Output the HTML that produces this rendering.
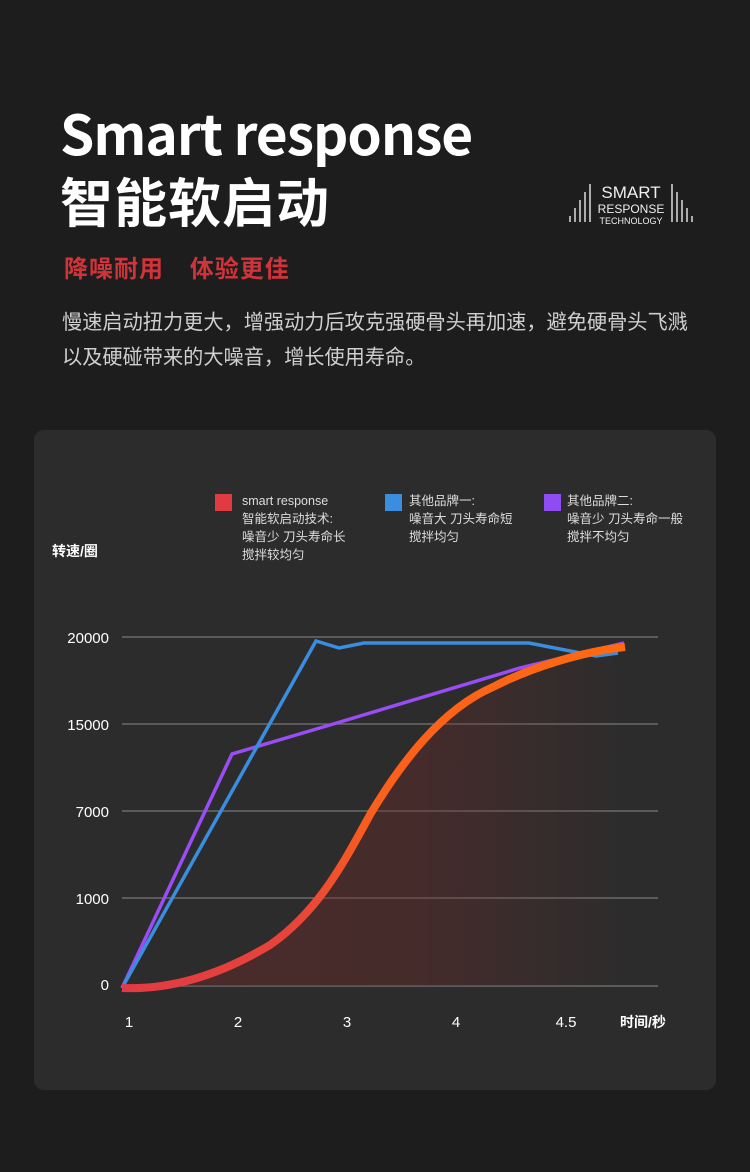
<!DOCTYPE html>
<html><head><meta charset="utf-8"><style>
body{margin:0;width:750px;height:1172px;background:#1d1d1d;font-family:"Liberation Sans","Noto Sans CJK SC",sans-serif;color:#fff;position:relative;overflow:hidden}
.a{position:absolute;white-space:nowrap}
</style></head><body>
<div class="a" style="left:60px;top:91px;font-size:55px;font-weight:bold;letter-spacing:-1px;font-family:'Noto Sans CJK SC',sans-serif">Smart response</div>
<div class="a" style="left:60px;top:162px;font-size:53px;font-weight:bold;letter-spacing:1px;font-family:'Noto Sans CJK SC',sans-serif">智能软启动</div>
<div class="a" style="left:64px;top:249px;font-size:24px;color:#d0343a;font-weight:bold;letter-spacing:1px;font-family:'Noto Sans CJK SC',sans-serif">降噪耐用&nbsp;&nbsp;&nbsp;&nbsp;体验更佳</div>
<div class="a" style="left:62px;top:303px;font-size:20.2px;color:#cfcfcf;line-height:35px;font-family:'Noto Sans CJK SC',sans-serif">慢速启动扭力更大，增强动力后攻克强硬骨头再加速，避免硬骨头飞溅<br>以及硬碰带来的大噪音，增长使用寿命。</div>
<svg class="a" style="left:566px;top:178px" width="130" height="50">
<g stroke="#ddd" fill="none" stroke-width="1.5">
<line x1="4" y1="44" x2="4" y2="38"/><line x1="9" y1="44" x2="9" y2="30"/><line x1="14" y1="44" x2="14" y2="22"/><line x1="19" y1="44" x2="19" y2="14"/><line x1="24" y1="44" x2="24" y2="6"/>
<line x1="106" y1="44" x2="106" y2="6"/><line x1="111" y1="44" x2="111" y2="14"/><line x1="116" y1="44" x2="116" y2="22"/><line x1="121" y1="44" x2="121" y2="30"/><line x1="126" y1="44" x2="126" y2="38"/></g>
<text x="65" y="20" fill="#eee" font-size="17" text-anchor="middle" font-family="Liberation Sans">SMART</text>
<text x="65" y="35" fill="#eee" font-size="12" text-anchor="middle" font-family="Liberation Sans">RESPONSE</text>
<text x="65" y="46" fill="#eee" font-size="9" text-anchor="middle" font-family="Liberation Sans">TECHNOLOGY</text>
</svg>
<div class="a" style="left:34px;top:430px;width:682px;height:660px;background:#2c2c2c;border-radius:10px"></div>
<svg class="a" style="left:0;top:0" width="750" height="1172">
<defs>
<linearGradient id="s" x1="0" y1="0" x2="1" y2="0"><stop offset="0" stop-color="#e23a44"/><stop offset="0.35" stop-color="#e8443a"/><stop offset="0.5" stop-color="#fb5f1c"/><stop offset="1" stop-color="#ff6a10"/></linearGradient>
<linearGradient id="f" x1="0" y1="0" x2="1" y2="0"><stop offset="0" stop-color="#6b2a2a" stop-opacity="0.5"/><stop offset="0.6" stop-color="#6b2a2a" stop-opacity="0.4"/><stop offset="1" stop-color="#6b2a2a" stop-opacity="0"/></linearGradient>
</defs>
<g stroke="#777" stroke-width="1.3">
<line x1="122" y1="637" x2="658" y2="637"/><line x1="122" y1="724" x2="658" y2="724"/><line x1="122" y1="811" x2="658" y2="811"/><line x1="122" y1="898" x2="658" y2="898"/><line x1="122" y1="986" x2="658" y2="986"/></g>
<path d="M122,988 C170,990 220,975 270,945 C320,910 345,860 371,813 C400,765 440,710 493,687 C530,668 580,652 625,647 L625,986 L122,986 Z" fill="url(#f)"/>
<polyline points="122,988 232,754 340,722 520,668 624,643" fill="none" stroke="#9a4cf5" stroke-width="3.5"/>
<polyline points="122,988 316,641 339,648 364,643 529,643 596,656 618,653" fill="none" stroke="#3b8de0" stroke-width="3.5"/>
<path d="M122,988 C170,990 220,975 270,945 C320,910 345,860 371,813 C400,765 440,710 493,687 C530,668 580,652 625,647" fill="none" stroke="url(#s)" stroke-width="8"/>
<g fill="#fff" font-size="15" font-family="Liberation Sans">
<text x="109" y="643" text-anchor="end">20000</text><text x="109" y="730" text-anchor="end">15000</text><text x="109" y="817" text-anchor="end">7000</text><text x="109" y="904" text-anchor="end">1000</text><text x="109" y="990" text-anchor="end">0</text>
<text x="129" y="1027" text-anchor="middle">1</text><text x="238" y="1027" text-anchor="middle">2</text><text x="347" y="1027" text-anchor="middle">3</text><text x="456" y="1027" text-anchor="middle">4</text><text x="566" y="1027" text-anchor="middle">4.5</text>
</g>
</svg>
<div class="a" style="left:52px;top:541px;font-size:14px;font-weight:bold">转速/圈</div>
<div class="a" style="left:620px;top:1012px;font-size:14px;font-weight:bold">时间/秒</div>
<div class="a" style="left:215px;top:494px;width:17px;height:17px;background:#e03a42"></div>
<div class="a" style="left:385px;top:494px;width:17px;height:17px;background:#3b8de0"></div>
<div class="a" style="left:544px;top:494px;width:17px;height:17px;background:#8f4cf2"></div>
<div class="a" style="left:242px;top:492px;font-size:12.5px;line-height:18px;color:#ddd">smart response<br>智能软启动技术:<br>噪音少 刀头寿命长<br>搅拌较均匀</div>
<div class="a" style="left:409px;top:492px;font-size:12.5px;line-height:18px;color:#ddd">其他品牌一:<br>噪音大 刀头寿命短<br>搅拌均匀</div>
<div class="a" style="left:567px;top:492px;font-size:12.5px;line-height:18px;color:#ddd">其他品牌二:<br>噪音少 刀头寿命一般<br>搅拌不均匀</div>
</body></html>
